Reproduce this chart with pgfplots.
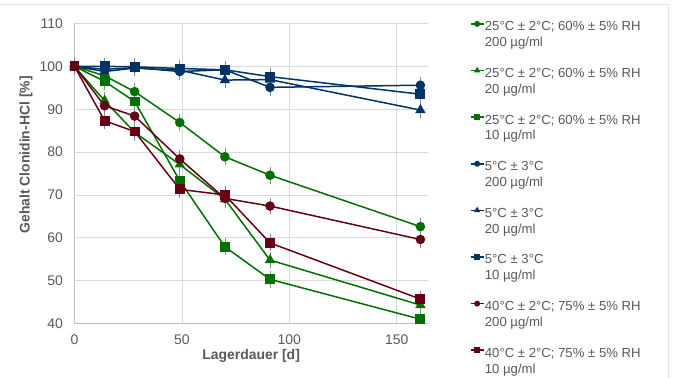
\documentclass[border=0pt]{standalone}
\usepackage{pgfplots}
\pgfplotsset{compat=1.18}
\usepackage{fontspec}
\setmainfont{Liberation Sans}
\definecolor{cgreen}{RGB}{0,112,0}
\definecolor{cblue}{RGB}{0,51,102}
\definecolor{cred}{RGB}{102,0,20}
\definecolor{ctext}{RGB}{89,89,89}
\definecolor{cgrid}{RGB}{217,217,217}
\definecolor{caxis}{RGB}{191,191,191}
\begin{document}
\begin{tikzpicture}
\useasboundingbox (0,0) rectangle (675bp,378bp);
\draw[cgrid!70, line width=0.75bp] (0,374bp) -- (668bp,374bp) -- (668bp,0);
\begin{axis}[
  at={(74.5bp,54.5bp)}, anchor=south west, scale only axis,
  width=353.2bp, height=300bp,
  xmin=0, xmax=164.4, ymin=40, ymax=110,
  xtick={0,50,100,150}, ytick={40,50,...,110},
  axis lines*=left,
  grid=major, grid style={cgrid, line width=0.75bp},
  axis line style={caxis, line width=1bp},
  major tick length=0pt,
  tick label style={font=\fontsize{14}{16}\selectfont, text=ctext},
  /pgf/number format/assume math mode=true,
  xticklabel style={yshift=-8bp}, yticklabel style={xshift=-8bp},
  xlabel={Lagerdauer [d]}, ylabel={Gehalt Clonidin-HCl [\%]},
  label style={font=\bfseries\fontsize{14}{16}\selectfont, text=ctext},
  xlabel style={at={(axis description cs:0.5,0)}, anchor=north, inner sep=0pt, yshift=-26bp},
  ylabel style={at={(axis description cs:-0.137,0.562)}, anchor=center, inner sep=0pt},
  legend style={at={(1,1)}, anchor=north west, xshift=42bp, yshift=2.6bp, draw=none, fill=none,
    inner sep=0pt, font=\fontsize{13.2}{15}\selectfont, text=ctext, row sep=19bp,
    nodes={inner sep=0.5pt, align=left}},
  legend cell align=left,
  legend image code/.code={\draw[yshift=11bp,mark repeat=2,mark phase=2,#1,mark size=2.2bp] plot coordinates {(0bp,0bp)(6.5bp,0bp)(13bp,0bp)};},
  every axis plot/.append style={line width=1.5bp},
  error bars/y dir=both, error bars/y fixed=1.5,
  error bars/error bar style={black!45, line width=0.6bp},
  error bars/error mark options={black!45, mark size=2bp, line width=0.6bp},
]
\addplot[cgreen, mark=*, mark size=4bp, mark options={fill=cgreen}] coordinates
  {(0,100)(14,97.8)(28,94.1)(49,86.9)(70,78.9)(91,74.6)(161,62.6)};
\addlegendentry{25°C ± 2°C; 60\% ± 5\% RH\\[1bp]200 µg/ml}
\addplot[cgreen, mark=triangle*, mark size=4.5bp, mark options={fill=cgreen}] coordinates
  {(0,100)(14,92.0)(28,84.6)(49,77.1)(70,69.0)(91,54.8)(161,44.3)};
\addlegendentry{25°C ± 2°C; 60\% ± 5\% RH\\[1bp]20 µg/ml}
\addplot[cgreen, mark=square*, mark size=4.2bp, mark options={fill=cgreen}] coordinates
  {(0,100)(14,96.5)(28,91.8)(49,73.3)(70,57.9)(91,50.3)(161,41.0)};
\addlegendentry{25°C ± 2°C; 60\% ± 5\% RH\\[1bp]10 µg/ml}
\addplot[cblue, mark=*, mark size=4bp, mark options={fill=cblue}] coordinates
  {(0,100)(14,99.3)(28,99.7)(49,98.8)(70,99.2)(91,95.1)(161,95.6)};
\addlegendentry{5°C ± 3°C\\[1bp]200 µg/ml}
\addplot[cblue, mark=triangle*, mark size=4.5bp, mark options={fill=cblue}] coordinates
  {(0,100)(14,98.8)(28,99.6)(49,99.1)(70,96.8)(91,96.9)(161,89.8)};
\addlegendentry{5°C ± 3°C\\[1bp]20 µg/ml}
\addplot[cblue, mark=square*, mark size=4.2bp, mark options={fill=cblue}] coordinates
  {(0,100)(14,100.0)(28,99.9)(49,99.5)(70,99.2)(91,97.6)(161,93.5)};
\addlegendentry{5°C ± 3°C\\[1bp]10 µg/ml}
\addplot[cred, mark=*, mark size=4bp, mark options={fill=cred}] coordinates
  {(0,100)(14,90.8)(28,88.4)(49,78.4)(70,69.2)(91,67.4)(161,59.6)};
\addlegendentry{40°C ± 2°C; 75\% ± 5\% RH\\[1bp]200 µg/ml}
\addplot[cred, mark=square*, mark size=4.2bp, mark options={fill=cred}] coordinates
  {(0,100)(14,87.3)(28,84.8)(49,71.3)(70,70.0)(91,58.8)(161,45.7)};
\addlegendentry{40°C ± 2°C; 75\% ± 5\% RH\\[1bp]10 µg/ml}
\end{axis}
\end{tikzpicture}
\end{document}
